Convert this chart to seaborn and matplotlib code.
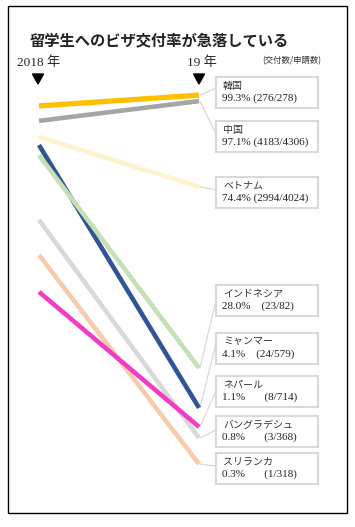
import matplotlib
matplotlib.use("Agg")
import matplotlib.pyplot as plt
import seaborn as sns
import pandas as pd
from matplotlib.patches import Rectangle, Polygon

sns.set_style("white")
plt.rcParams['font.family'] = ['Noto Sans CJK JP', 'DejaVu Sans']

# ---- data ----
countries = ["韓国", "中国", "ベトナム", "ミャンマー", "インドネシア", "バングラデシュ", "スリランカ", "ネパール"]
rate_2018 = [96.1, 92.1, 87.8, 85.6, 82.9, 65.5, 56.1, 46.2]   # plotted start levels
rate_2019 = [99.0, 97.4, 74.4, 15.1, 25.8, 7.0, 0.0, 10.0]     # plotted end levels
colors = ["#FFC000", "#A5A5A5", "#FFF2CC", "#2F5597", "#C5E0B4", "#D9D9D9", "#F8CBAD", "#F23CC8"]
widths = [3.8, 3.3, 3.3, 3.3, 3.3, 3.3, 3.3, 3.3]
years = ["2018 年", "19 年"]

label_names = ["韓国", "中国", "ベトナム", "インドネシア", "ミャンマー", "ネパール", "バングラデシュ", "スリランカ"]
label_values = ["99.3% (276/278)", "97.1% (4183/4306)", "74.4% (2994/4024)", "28.0%    (23/82)",
                "4.1%    (24/579)", "1.1%       (8/714)", "0.8%       (3/368)", "0.3%       (1/318)"]
label_line_end = [99.0, 97.4, 74.4, 25.8, 15.1, 10.0, 7.0, 0.0]
title = "留学生へのビザ交付率が急落している"
unit_note = "(交付数/申請数)"

W, H = 355, 527
fig = plt.figure(figsize=(W / 100, H / 100), dpi=100)

# overlay axes in pixel coordinates
ov = fig.add_axes([0, 0, 1, 1])
ov.set_xlim(0, W)
ov.set_ylim(H, 0)
ov.axis("off")

# line axes: x 0..1 (2018..2019), y 0..100 %
x0p, x1p = 39, 199
y0p, y100p = 464.1, 91.4
lax = fig.add_axes([x0p / W, (H - y0p) / H, (x1p - x0p) / W, (y0p - y100p) / H])
lax.set_xlim(0, 1)
lax.set_ylim(0, 100)
lax.axis("off")
lax.patch.set_alpha(0)

df = pd.DataFrame({
    "country": countries * 2,
    "x": [0] * len(countries) + [1] * len(countries),
    "rate": rate_2018 + rate_2019,
})
for c, col, lw in zip(countries, colors, widths):
    sub = df[df["country"] == c]
    sns.lineplot(data=sub, x="x", y="rate", ax=lax, color=col, linewidth=lw,
                 legend=False, solid_capstyle="butt")
for ln in lax.lines:
    ln.set_clip_on(False)
lax.set_xlim(0, 1)
lax.set_ylim(0, 100)
lax.axis("off")

# frame
ov.add_patch(Rectangle((8, 6), 339, 507, fill=False, edgecolor="black", linewidth=1.0))

# title and headers
ov.text(30, 40, title, fontsize=11, fontweight="bold", va="center", ha="left", color="#222222")
ov.text(17, 63, years[0], fontsize=9.5, va="center", ha="left",
        family=["Liberation Serif", "Noto Sans CJK JP"])
ov.text(187, 63, years[1], fontsize=9.5, va="center", ha="left",
        family=["Liberation Serif", "Noto Sans CJK JP"])
ov.text(262, 61, unit_note, fontsize=6, va="center", ha="left", color="#333333")
for cx in (38, 199):
    ov.add_patch(Polygon([(cx - 5.5, 74), (cx + 5.5, 74), (cx, 84)], closed=True, color="black"))

# label boxes
box_tops = [77, 121, 177, 285, 333, 376, 416, 453]
box_h = 31
box_x, box_w = 216, 102
anchor_y = [88, 134, 190, 300, 343, 391, 430, 466]
to_px = lambda v: ov.transData.inverted().transform(lax.transData.transform((1, v)))
for name, val, top, ay, endv in zip(label_names, label_values, box_tops, anchor_y, label_line_end):
    ov.add_patch(Rectangle((box_x, top), box_w, box_h, fill=True, facecolor="white",
                           edgecolor="#D9D9D9", linewidth=1.5))
    ov.text(223, top + 8.5, name, fontsize=7.2, va="center", ha="left", color="#333333")
    ov.text(222, top + 21.5, val, fontsize=8, va="center", ha="left", color="#222222",
            family=["Liberation Serif", "Noto Sans CJK JP"])
    ex, ey = to_px(endv)
    ov.plot([ex + 1, box_x], [ey, ay], color="#D9D9D9", linewidth=0.9, zorder=0)

fig.savefig("out.png", dpi=100)
